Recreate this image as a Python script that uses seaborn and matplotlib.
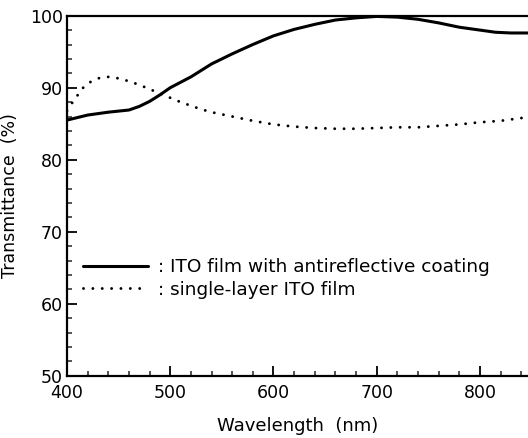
import numpy as np
import pandas as pd
import matplotlib
matplotlib.use("Agg")
import matplotlib.pyplot as plt
import seaborn as sns
from matplotlib.ticker import MultipleLocator

# Data
wl_coated = [400, 420, 440, 460, 470, 480, 490, 500, 520, 540, 560, 580, 600, 620, 640, 660,
             680, 700, 720, 740, 760, 780, 800, 815, 830, 846]
t_coated = [85.5, 86.2, 86.6, 86.9, 87.4, 88.1, 89.0, 90.0, 91.5, 93.3, 94.7, 96.0, 97.2, 98.1,
            98.8, 99.4, 99.7, 99.9, 99.8, 99.5, 99.0, 98.4, 98.0, 97.7, 97.6, 97.6]

wl_single = [400, 405, 410, 415, 420, 430, 440, 450, 460, 470, 480, 490, 500, 510, 520,
             530, 540, 550, 560, 570, 580, 600, 620, 640, 660, 680, 700, 720, 740, 760,
             780, 800, 820, 846]
t_single = [86.8, 87.9, 88.9, 89.9, 90.6, 91.3, 91.5, 91.3, 90.9, 90.4, 89.8, 89.2, 88.6, 88.0, 87.5,
            87.0, 86.6, 86.3, 86.0, 85.7, 85.4, 84.9, 84.6, 84.4, 84.3, 84.3, 84.4, 84.5, 84.5, 84.7,
            84.9, 85.2, 85.4, 85.9]

label_coated = ": ITO film with antireflective coating"
label_single = ": single-layer ITO film"
xlabel = "Wavelength  (nm)"
ylabel = "Transmittance  (%)"

df_c = pd.DataFrame({"wl": wl_coated, "T": t_coated})
df_s = pd.DataFrame({"wl": wl_single, "T": t_single})

sns.set_style("ticks")
plt.rcParams["font.family"] = ["DejaVu Sans"]
plt.rcParams["text.color"] = "black"
plt.rcParams["axes.labelcolor"] = "black"

fig = plt.figure(figsize=(5.28, 4.38), dpi=100)
ax = fig.add_axes([67 / 528, 1 - 375.7 / 438, 461 / 528, 360 / 438])

sns.lineplot(data=df_c, x="wl", y="T", ax=ax, color="black", linewidth=2.2,
             label=label_coated, solid_capstyle="round")
lw_dot = 2.1
sns.lineplot(data=df_s, x="wl", y="T", ax=ax, color="black", linewidth=lw_dot,
             linestyle=(0, (0.01, 3.2)), dash_capstyle="round", label=label_single)

ax.set_xlim(400, 846.5)
ax.set_ylim(50, 100)
ax.xaxis.set_major_locator(MultipleLocator(100))
ax.xaxis.set_minor_locator(MultipleLocator(20))
ax.yaxis.set_major_locator(MultipleLocator(10))
ax.yaxis.set_minor_locator(MultipleLocator(2))

for s in ["left", "bottom", "top"]:
    ax.spines[s].set_linewidth(1.6)
    ax.spines[s].set_color("black")
ax.spines["right"].set_visible(False)

ax.tick_params(which="major", direction="in", length=7, width=1.3, labelsize=12.5,
               colors="black")
ax.tick_params(axis="x", which="major", pad=6)
ax.tick_params(axis="y", which="major", pad=3)
ax.tick_params(which="minor", direction="in", length=3.5, width=1.1)
ax.tick_params(axis="x", which="both", top=False)
ax.tick_params(axis="y", which="both", right=False)

ax.set_xlabel(xlabel, fontsize=13, labelpad=11)
ax.set_ylabel(ylabel, fontsize=12.5, labelpad=8)

leg = ax.legend(loc="center left", bbox_to_anchor=(0.035, 0.27), frameon=False,
                fontsize=13.3, handlelength=3.5, handletextpad=0.55, labelspacing=0.25,
                borderpad=0, borderaxespad=0)
for t in leg.get_texts():
    t.set_color("black")

fig.savefig("out.png", dpi=100)
